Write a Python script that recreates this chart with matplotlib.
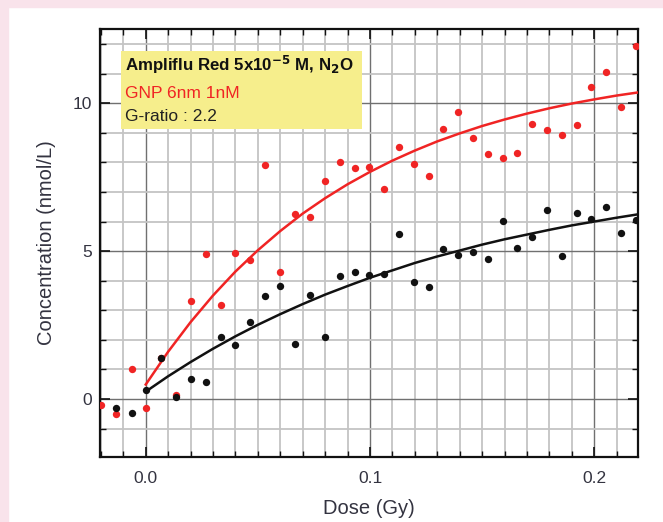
import numpy as np
import matplotlib
matplotlib.use('Agg')
import matplotlib.pyplot as plt
from matplotlib.patches import Rectangle
from matplotlib.ticker import MultipleLocator

plt.rcParams['font.family'] = ['Liberation Sans', 'DejaVu Sans']
plt.rcParams['mathtext.default'] = 'regular'

# measured points
dose = [-0.0198, -0.0131, -0.0062, 0.0003, 0.0067, 0.0135, 0.0202, 0.0268, 0.0334,
        0.0400, 0.0467, 0.0533, 0.0600, 0.0666, 0.0732, 0.0799, 0.0865, 0.0932,
        0.0995, 0.1064, 0.1129, 0.1194, 0.1261, 0.1326, 0.1393, 0.1460, 0.1525,
        0.1592, 0.1656, 0.1723, 0.1788, 0.1855, 0.1922, 0.1987, 0.2054, 0.2119, 0.2185]
gnp = [-0.20, -0.50, 1.03, -0.30, 1.38, 0.15, 3.33, 4.91, 3.17,
       4.94, 4.71, 7.91, 4.29, 6.26, 6.15, 7.37, 8.01, 7.82,
       7.86, 7.10, 8.51, 7.93, 7.55, 9.13, 9.72, 8.84, 8.30,
       8.16, 8.33, 9.31, 9.10, 8.91, 9.27, 10.56, 11.05, 9.86, 11.95]
ctrl_dose = dose[1:]
ctrl = [-0.30, -0.47, 0.32, 1.39, 0.06, 0.69, 0.56, 2.09,
        1.84, 2.61, 3.49, 3.81, 1.87, 3.50, 2.10, 4.16, 4.30,
        4.18, 4.24, 5.58, 3.95, 3.79, 5.07, 4.86, 4.98, 4.72,
        6.02, 5.12, 5.47, 6.38, 4.82, 6.30, 6.07, 6.50, 5.62, 6.05]

# fitted curves
fit_dose = [0.00, 0.01, 0.02, 0.03, 0.04, 0.05, 0.06, 0.07, 0.08, 0.09, 0.10, 0.11,
            0.12, 0.13, 0.14, 0.15, 0.16, 0.17, 0.18, 0.19, 0.20, 0.21, 0.22]
gnp_fit = [0.49, 1.60, 2.60, 3.50, 4.31, 5.03, 5.68, 6.27, 6.79, 7.26, 7.68, 8.06,
           8.40, 8.71, 8.98, 9.23, 9.45, 9.65, 9.83, 9.99, 10.13, 10.26, 10.37]
ctrl_fit = [0.25, 0.77, 1.25, 1.70, 2.12, 2.51, 2.87, 3.21, 3.53, 3.82, 4.10, 4.35,
            4.60, 4.82, 5.02, 5.22, 5.40, 5.56, 5.72, 5.87, 6.00, 6.13, 6.25]

red = '#f02424'
blk = '#111111'
txt = '#333340'

fig = plt.figure(figsize=(6.63, 5.22), dpi=100)
fig.patch.set_facecolor('white')
# pink strips top and left
fig.patches.append(Rectangle((0, 0.986), 1, 0.014, transform=fig.transFigure,
                             color='#f9e3eb', zorder=0))
fig.patches.append(Rectangle((0, 0), 0.012, 1, transform=fig.transFigure,
                             color='#f9e3eb', zorder=0))

ax = fig.add_axes([0.1508, 0.1251, 0.8115, 0.8188])
ax.set_xlim(-0.0204, 0.2195)
ax.set_ylim(-1.95, 12.5)

ax.xaxis.set_major_locator(MultipleLocator(0.1))
ax.xaxis.set_minor_locator(MultipleLocator(0.01))
ax.yaxis.set_major_locator(MultipleLocator(5))
ax.yaxis.set_minor_locator(MultipleLocator(1))
ax.set_xticks([0.0, 0.1, 0.2])
ax.set_xticklabels(['0.0', '0.1', '0.2'])

ax.grid(which='minor', color='#c4c4c4', lw=1.3)
ax.grid(which='major', color='#707070', lw=1.0)
ax.set_axisbelow(True)

ax.tick_params(which='both', direction='in', top=True, right=True, color='#111111')
ax.tick_params(which='major', length=7, width=1.2, labelsize=12.5, labelcolor=txt, pad=6)
ax.tick_params(axis='x', which='major', pad=10)
ax.tick_params(which='minor', length=4, width=1.0)
for s in ax.spines.values():
    s.set_linewidth(1.6)
    s.set_color('#111111')

ax.plot(fit_dose, gnp_fit, color=red, lw=1.8, zorder=3)
ax.plot(fit_dose, ctrl_fit, color=blk, lw=1.8, zorder=3)
ax.scatter(dose, gnp, s=28, color=red, zorder=4, linewidths=0)
ax.scatter(ctrl_dose, ctrl, s=28, color=blk, zorder=5, linewidths=0)

ax.set_xlabel('Dose (Gy)', fontsize=14.5, color=txt, labelpad=10)
ax.set_ylabel('Concentration (nmol/L)', fontsize=14.5, color=txt, labelpad=12)

# annotation box
ax.add_patch(Rectangle((0.039, 0.767), 0.448, 0.182, transform=ax.transAxes,
                       facecolor='#f6ee8c', edgecolor='none', zorder=6))
ax.text(0.047, 0.9165, r'Ampliflu Red 5x10$^{\mathbf{-5}}$ M, N$_{\mathbf{2}}$O',
        transform=ax.transAxes, fontsize=12.2, fontweight='bold', color='#111111',
        va='center', ha='left', zorder=7)
ax.text(0.047, 0.849, 'GNP 6nm 1nM', transform=ax.transAxes, fontsize=12.5,
        color=red, va='center', ha='left', zorder=7)
ax.text(0.047, 0.795, 'G-ratio : 2.2', transform=ax.transAxes, fontsize=12.5,
        color='#222222', va='center', ha='left', zorder=7)

fig.savefig('out.png', dpi=100)
